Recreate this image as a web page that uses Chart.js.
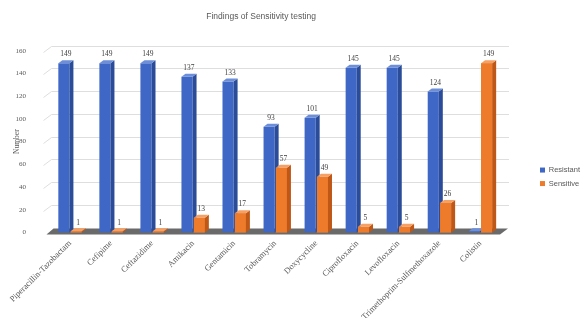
<!DOCTYPE html>
<html>
<head>
<meta charset="utf-8">
<script src="https://cdn.jsdelivr.net/npm/chart.js@4/dist/chart.umd.min.js"></script>
<style>
html,body{margin:0;padding:0;background:#fff;}
#wrap{width:581px;height:318px;position:relative;}
</style>
</head>
<body>
<div id="wrap"><canvas id="c" width="581" height="318"></canvas></div>
<script>
const categories = ['Piperacillin-Tazobactam','Cefipime','Ceftazidime','Amikacin','Gentamicin','Tobramycin','Doxycycline','Ciprofloxacin','Levofloxacin','Trimethoprim-Sulfmethoxazole','Colistin'];
const resistant = [149,149,149,137,133,93,101,145,145,124,1];
const sensitive = [1,1,1,13,17,57,49,5,5,26,149];
const yTicks = [0,20,40,60,80,100,120,140,160];

const DX = 4, DY = 3;
const serif = "'Liberation Serif', 'DejaVu Serif', serif";
const sans = "'Liberation Sans', 'DejaVu Sans', sans-serif";

const frontColors = ['#3f67c6','#ee7b2c'];
const sideColors = ['#2a4c99','#bf5716'];
const topColors = ['#6d8ed8','#f5a165'];

const wallPlugin = {
  id: 'wall',
  beforeDatasetsDraw(chart) {
    const {ctx, chartArea} = chart;
    const ys = chart.scales.y;
    const y0 = ys.getPixelForValue(0);
    ctx.save();
    ctx.strokeStyle = '#dedede';
    ctx.lineWidth = 1;
    ys.ticks.forEach(t => {
      if (t.value === 0) return;
      const y = Math.round(ys.getPixelForValue(t.value)) + 0.5;
      ctx.beginPath();
      ctx.moveTo(chartArea.left - 6, y + 1);
      ctx.lineTo(chartArea.left + 2, y - 5);
      ctx.lineTo(chartArea.right + 8, y - 5);
      ctx.stroke();
    });
    ctx.fillStyle = '#6a6a6a';
    ctx.beginPath();
    ctx.moveTo(chartArea.left - 3, y0 + 2);
    ctx.lineTo(chartArea.right - 1, y0 + 2);
    ctx.lineTo(chartArea.right + 7, y0 - 4);
    ctx.lineTo(chartArea.left + 4, y0 - 4);
    ctx.closePath();
    ctx.fill();
    ctx.restore();
  }
};

function drawDepth(ctx, el, i, redrawFront) {
  const l = el.x - el.width / 2, r = el.x + el.width / 2;
  const t = el.y, b = el.base;
  if (redrawFront) {
    ctx.fillStyle = frontColors[i];
    ctx.fillRect(l, t, r - l, b - t);
  }
  ctx.fillStyle = sideColors[i];
  ctx.beginPath();
  ctx.moveTo(r, t); ctx.lineTo(r + DX, t - DY); ctx.lineTo(r + DX, b - DY); ctx.lineTo(r, b);
  ctx.closePath(); ctx.fill();
  ctx.fillStyle = topColors[i];
  ctx.beginPath();
  ctx.moveTo(l, t); ctx.lineTo(l + DX, t - DY); ctx.lineTo(r + DX, t - DY); ctx.lineTo(r, t);
  ctx.closePath(); ctx.fill();
}

const depthPlugin = {
  id: 'depth',
  afterDatasetsDraw(chart) {
    const {ctx} = chart;
    const m0 = chart.getDatasetMeta(0), m1 = chart.getDatasetMeta(1);
    ctx.save();
    m0.data.forEach((el, j) => {
      drawDepth(ctx, el, 0, false);
      drawDepth(ctx, m1.data[j], 1, true);
    });
    ctx.font = "7.5px " + serif;
    ctx.fillStyle = '#404040';
    ctx.textAlign = 'center';
    ctx.textBaseline = 'bottom';
    chart.data.datasets.forEach((ds, di) => {
      chart.getDatasetMeta(di).data.forEach((el, j) => {
        ctx.fillText(String(ds.data[j]), el.x + DX / 2, el.y - DY - 2);
      });
    });
    ctx.restore();
  }
};

new Chart(document.getElementById('c'), {
  type: 'bar',
  data: {
    labels: categories,
    datasets: [
      { label: 'Resistant', data: resistant, backgroundColor: frontColors[0],
        categoryPercentage: 0.6, barPercentage: 0.9 },
      { label: 'Sensitive', data: sensitive, backgroundColor: frontColors[1],
        categoryPercentage: 0.6, barPercentage: 0.9 }
    ]
  },
  options: {
    responsive: false,
    animation: false,
    layout: { padding: { top: 0, left: 0, right: -9, bottom: 0 } },
    plugins: {
      title: {
        display: true, text: 'Findings of Sensitivity testing\u00a0\u00a0\u00a0\u00a0\u00a0\u00a0\u00a0\u00a0\u00a0\u00a0\u00a0\u00a0', fullSize: false,
        color: '#595959', font: { family: sans, size: 8.5, weight: 'normal' },
        padding: { top: 12, bottom: 28.5 }
      },
      legend: {
        position: 'right',
        title: { display: true, text: ' ', font: { size: 8 }, padding: { top: 26, bottom: 0 } },
        labels: {
          boxWidth: 5, boxHeight: 5, padding: 6, color: '#595959',
          font: { family: sans, size: 7.5 }
        }
      },
      tooltip: { enabled: false }
    },
    scales: {
      x: {
        grid: { display: false }, border: { display: false },
        ticks: { color: '#595959', font: { family: serif, size: 8.5 }, maxRotation: 45, minRotation: 45, autoSkip: false, padding: -2 },
        afterFit(s) { s.height = 85.5; }
      },
      y: {
        min: 0, max: 160,
        afterBuildTicks(s) { s.ticks = yTicks.map(v => ({ value: v })); },
        grid: { display: false },
        border: { display: false },
        ticks: { color: '#595959', font: { family: serif, size: 7 }, padding: 15.5 },
        title: { display: true, text: 'Number', color: '#595959', font: { family: serif, size: 7.5 }, padding: { top: 12.5, bottom: 0 } },
        afterFit(s) { s.width = 49.5; }
      },
      pad: {
        type: 'linear', position: 'right', display: true,
        grid: { display: false }, border: { display: false },
        ticks: { display: false },
        afterFit(s) { s.width = 33; }
      }
    }
  },
  plugins: [wallPlugin, depthPlugin]
});
</script>
</body>
</html>
